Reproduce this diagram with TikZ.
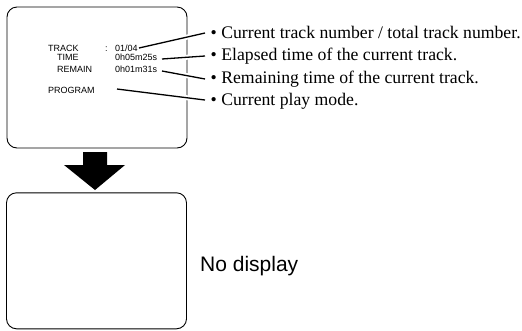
\documentclass[tikz,border=0pt]{standalone}
\usepackage{fontspec}
\setmainfont{Liberation Serif}
\newfontfamily\arialf{Liberation Sans}
\begin{document}
\begin{tikzpicture}[x=1pt,y=-1pt,
  screen/.style={draw, line width=0.9pt, rounded corners=10pt, minimum width=180pt, inner sep=0pt},
  lcd/.style={font=\arialf\fontsize{9}{10}\selectfont, anchor=base west, inner sep=0pt},
  note/.style={font=\fontsize{17.7}{20}\selectfont, anchor=base west, inner sep=0pt},
  big/.style={font=\arialf\fontsize{21}{24}\selectfont, anchor=base west, inner sep=0pt},
  leader/.style={line width=1.3pt, preaction={draw=white, line width=5pt}}]
\useasboundingbox (0,0) rectangle (522,330);
% screens
\node[screen, minimum height=141pt] (top) at (97,77.5) {};
\node[screen, minimum height=136pt] (bot) at (96.5,260.8) {};
% big arrow
\fill (83,152) -- (107,152) -- (107,165) -- (125,165) -- (95,190) -- (64,165) -- (83,165) -- cycle;
% LCD texts
\node[lcd] (track) at (48,51) {TRACK};
\node[lcd] (colon) at (105,51) {:};
\node[lcd] (tv) at (115,51) {01/04};
\node[lcd] (time) at (57,60.5) {TIME};
\node[lcd] (timev) at (115,60.5) {0h05m25s};
\node[lcd] (rem) at (57,72) {REMAIN};
\node[lcd] (remv) at (115,72) {0h01m31s};
\node[lcd] (prog) at (48,93) {PROGRAM};
% notes
\node[note] (n1) at (210.5,38.5) {• Current track number / total track number.};
\node[note] (n2) at (210.5,60.5) {• Elapsed time of the current track.};
\node[note] (n3) at (210.5,83.5) {• Remaining time of the current track.};
\node[note] (n4) at (210.5,105.5) {• Current play mode.};
\node[big] (nod) at (200,271) {No display};
% leader end points
\coordinate (a1) at (139,48);
\coordinate (b1) at (205,33);
\coordinate (a2) at (162,59);
\coordinate (b2) at (205,56);
\coordinate (a3) at (162,71);
\coordinate (b3) at (205,79);
\coordinate (a4) at (117,89);
\coordinate (b4) at (205,100);
\draw[leader] (a1) -- (b1);
\draw[leader] (a2) -- (b2);
\draw[leader] (a3) -- (b3);
\draw[leader] (a4) -- (b4);
\end{tikzpicture}
\end{document}
